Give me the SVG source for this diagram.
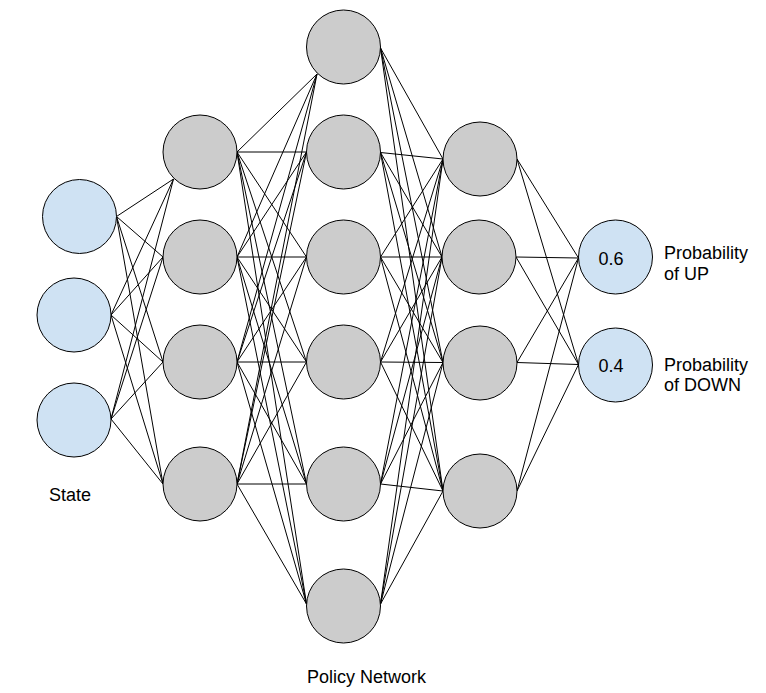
<svg xmlns="http://www.w3.org/2000/svg" width="766" height="693" viewBox="0 0 766 693">
<style>
.bg{fill:#ffffff}
.c{fill:none;stroke:#000;stroke-width:1}
.in{fill:#cfe2f3;stroke:#000;stroke-width:1}
.hid{fill:#cccccc;stroke:#000;stroke-width:1}
.t{font-family:"Liberation Sans",Arial,sans-serif;font-size:18px;fill:#000}
</style>
<rect class="bg" x="0" y="0" width="766" height="693"/>
<g id="connectors">
<path class="c" d="M116.5 216.5L173.5 179M116.5 216.5L163 257M116.5 216.5L163 362M116.5 216.5L163 484"/>
<path class="c" d="M111 315L173.5 179M111 315L163 257M111 315L163 362M111 315L163 484"/>
<path class="c" d="M111 419L173.5 179M111 419L163 257M111 419L163 362M111 419L163 484"/>
<path class="c" d="M237 152L317 74M237 152L306.5 152M237 152L306.5 257M237 152L306.5 362M237 152L306.5 484M237 152L306.5 604"/>
<path class="c" d="M237 257L317 74M237 257L306.5 152M237 257L306.5 257M237 257L306.5 362M237 257L306.5 484M237 257L306.5 604"/>
<path class="c" d="M237 362L317 74M237 362L306.5 152M237 362L306.5 257M237 362L306.5 362M237 362L306.5 484M237 362L306.5 604"/>
<path class="c" d="M237 484L317 74M237 484L306.5 152M237 484L306.5 257M237 484L306.5 362M237 484L306.5 484M237 484L306.5 604"/>
<path class="c" d="M380.5 48L443 159M380.5 48L442 257M380.5 48L443 362.5M380.5 48L443 491"/>
<path class="c" d="M380.5 152.5L443 159M380.5 152.5L442 257M380.5 152.5L443 362.5M380.5 152.5L443 491"/>
<path class="c" d="M380.5 257L443 159M380.5 257L442 257M380.5 257L443 362.5M380.5 257L443 491"/>
<path class="c" d="M380.5 362L443 159M380.5 362L442 257M380.5 362L443 362.5M380.5 362L443 491"/>
<path class="c" d="M380.5 484L443 159M380.5 484L442 257M380.5 484L443 362.5M380.5 484L443 491"/>
<path class="c" d="M380.5 604L443 159M380.5 604L442 257M380.5 604L443 362.5M380.5 604L443 491"/>
<path class="c" d="M517 159L578.5 258M517 159L578.5 364.5"/>
<path class="c" d="M516 257L578.5 258M516 257L578.5 364.5"/>
<path class="c" d="M517 362.5L578.5 258M517 362.5L578.5 364.5"/>
<path class="c" d="M517 491L578.5 258M517 491L578.5 364.5"/>
</g>
<g id="in1"><circle class="in" cx="79.5" cy="216.5" r="37"/></g>
<g id="in2"><circle class="in" cx="74" cy="315" r="37"/></g>
<g id="in3"><circle class="in" cx="74" cy="420" r="37"/></g>
<g id="h1a"><circle class="hid" cx="200" cy="152" r="37"/></g>
<g id="h1b"><circle class="hid" cx="200" cy="257" r="37"/></g>
<g id="h1c"><circle class="hid" cx="200" cy="362" r="37"/></g>
<g id="h1d"><circle class="hid" cx="200" cy="484" r="37"/></g>
<g id="h2a"><circle class="hid" cx="343.5" cy="47" r="37"/></g>
<g id="h2b"><circle class="hid" cx="343.5" cy="152" r="37"/></g>
<g id="h2c"><circle class="hid" cx="343.5" cy="257" r="37"/></g>
<g id="h2d"><circle class="hid" cx="343.5" cy="362" r="37"/></g>
<g id="h2e"><circle class="hid" cx="343.5" cy="484" r="37"/></g>
<g id="h2f"><circle class="hid" cx="343.5" cy="606" r="37"/></g>
<g id="h3a"><circle class="hid" cx="480" cy="159" r="37"/></g>
<g id="h3b"><circle class="hid" cx="479" cy="257" r="37"/></g>
<g id="h3c"><circle class="hid" cx="480" cy="363" r="37"/></g>
<g id="h3d"><circle class="hid" cx="480" cy="491" r="37"/></g>
<g id="out1"><circle class="in" cx="615.5" cy="257" r="37"/><text class="t" x="611" y="264.5" text-anchor="middle">0.6</text></g>
<g id="out2"><circle class="in" cx="615.5" cy="365" r="37"/><text class="t" x="611" y="371.5" text-anchor="middle">0.4</text></g>
<g id="labels">
<text class="t" x="49" y="500.5">State</text>
<text class="t" x="307" y="682.5">Policy Network</text>
<text class="t" x="664" y="259">Probability</text>
<text class="t" x="664" y="279.5">of UP</text>
<text class="t" x="664" y="370.5">Probability</text>
<text class="t" x="664" y="391">of DOWN</text>
</g>
</svg>
